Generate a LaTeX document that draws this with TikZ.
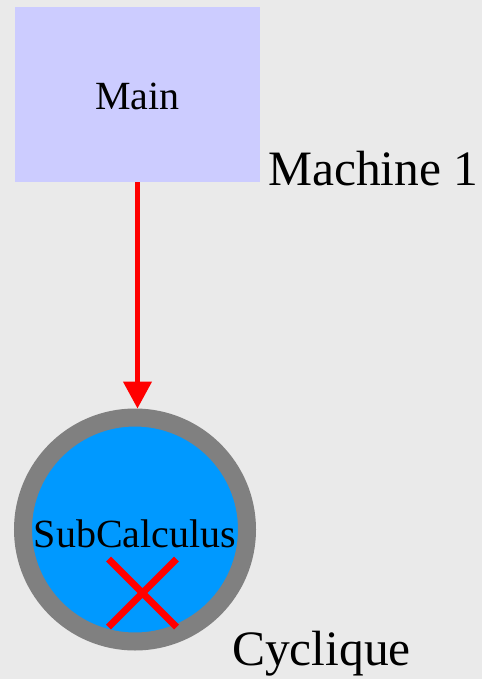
\documentclass[tikz,border=0pt]{standalone}
\usepackage{fontspec}
\setmainfont{Liberation Serif}
\usetikzlibrary{arrows.meta,positioning,shapes.misc}
\definecolor{bgGray}{HTML}{EAEAEA}
\definecolor{mainLav}{HTML}{CCCCFF}
\definecolor{subBlue}{HTML}{0099FF}
\definecolor{ringGray}{HTML}{808080}
\begin{document}
\begin{tikzpicture}[
  x=1pt,y=-1pt,
  every node/.style={inner sep=0pt},
  task/.style={fill=mainLav,minimum width=245pt,minimum height=175pt,font=\fontsize{40}{40}\selectfont,text height=31pt,text depth=0pt},
  cyc/.style={circle,draw=ringGray,line width=18pt,fill=subBlue,minimum size=224pt,font=\fontsize{40}{40}\selectfont,text height=35pt,text depth=0pt},
  tag/.style={anchor=base west,font=\fontsize{49.5}{49.5}\selectfont},
  cyclemark/.style={cross out,draw=red,line width=7pt,minimum width=61pt,minimum height=61pt},
  arr/.style={draw=red,line width=4.5pt,-{Triangle[length=27pt,width=28pt]}}
]
\path[use as bounding box,fill=bgGray] (0,0) rectangle (482,679);

\node[task] (main) at (137.5,94.5) {Main};
\node[tag] (machine) at (268,185) {Machine 1};
\node[cyc] (sub) at (135,529.5) {SubCalculus};
\node[cyclemark] (loop) at (142.5,593) {};
\node[tag] (cyclique) at (232,665) {Cyclique};

\draw[arr] (main.south) -- (main.south |- sub.north);
\end{tikzpicture}
\end{document}
